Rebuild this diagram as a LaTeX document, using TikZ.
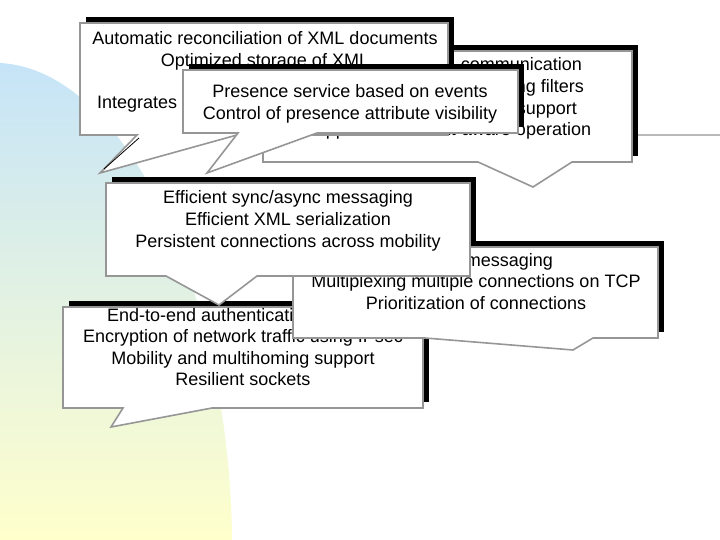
\documentclass[tikz,border=0pt]{standalone}
\usepackage{fontspec}
\setmainfont{Liberation Sans}
\definecolor{cgray}{RGB}{150,150,150}
\definecolor{bgblue}{RGB}{198,228,248}
\definecolor{bgmid}{RGB}{228,242,224}
\definecolor{bgyellow}{RGB}{255,255,204}
\definecolor{linegray}{RGB}{185,185,185}
\newcommand\shadowbox[4]{\fill[black] (#1+6,#2-6) rectangle (#3+6,#4-6);}
\newcommand\bodybox[8]{\draw[cbody] (#1,#2) -- (#3,#2) -- (#3,#4) -- (#6,#4) -- (#7,#8) -- (#5,#4) -- (#1,#4) -- cycle;}
\begin{document}
\begin{tikzpicture}[x=1pt,y=-1pt,
  cbody/.style={fill=white, draw=cgray, line width=1.6pt, line join=miter},
  txt/.style={font=\fontsize{18}{21.6}\selectfont, inner sep=0pt, anchor=base},
  txtr/.style={txt, anchor=base east},
  txtl/.style={txt, anchor=base west}]
\useasboundingbox (0,0) rectangle (720,540);
% background
\shade[top color=bgblue, middle color=bgmid, bottom color=bgyellow]
  (0,63) .. controls (130,70) and (230,300) .. (232,540) -- (0,540) -- cycle;
\draw[linegray, line width=1.5pt] (638,135) -- (720,135);
% box 3
\shadowbox{263}{51}{632}{162}
\bodybox{263}{51}{632}{162}{478}{572}{533}{187}
\node[txtr] (c1) at (582,71) {communication};
\node[txtr] (c2) at (584,92.6) {using filters};
\node[txtr] (c3) at (577,114.2) {support};
\node[txt] (c4) at (447.5,135.8) {Support for context-aware operation};
% box 1
\shadowbox{80}{23}{448}{135}
\bodybox{80}{23}{448}{135}{137}{237}{100}{173}
\draw[black, line width=0.8pt] (139,138) -- (104,169);
\node[txt] (a1) at (265,45) {Automatic reconciliation of XML documents};
\node[txt] (a2) at (265,66.6) {Optimized storage of XML};
\node[txtl] (a3) at (97,109) {Integrates};
% box 2
\shadowbox{183}{70}{518}{133}
\bodybox{183}{70}{518}{133}{238}{317}{207}{173}
\node[txt] (p1) at (350,98) {Presence service based on events};
\node[txt] (p2) at (350,119.6) {Control of presence attribute visibility};
% box 5
\shadowbox{63}{307}{423}{408}
\bodybox{63}{307}{423}{408}{123}{212}{111}{427}
\node[txtl] (e1) at (107,321) {End-to-end authentication};
\node[txt] (e2) at (243,342.6) {Encryption of network traffic using IPsec};
\node[txt] (e3) at (243,364.2) {Mobility and multihoming support};
\node[txt] (e4) at (243,385.8) {Resilient sockets};
% box 4 shadow
\shadowbox{106}{183}{470}{276}
% box 6
\shadowbox{293}{247}{658}{338}
\bodybox{293}{247}{658}{338}{425}{593}{573}{350}
\node[txtr] (m1) at (553,266) {messaging};
\node[txt] (m2) at (476,287.6) {Multiplexing multiple connections on TCP};
\node[txt] (m3) at (476,309.2) {Prioritization of connections};
% box 4 body
\bodybox{106}{183}{470}{276}{166}{257}{219}{305}
\node[txt] (s1) at (288,204) {Efficient sync/async messaging};
\node[txt] (s2) at (288,225.6) {Efficient XML serialization};
\node[txt] (s3) at (288,247.2) {Persistent connections across mobility};
\end{tikzpicture}
\end{document}
